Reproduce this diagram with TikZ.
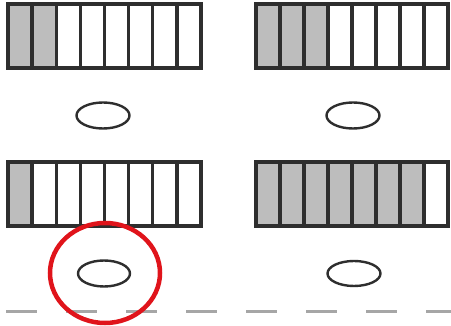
\documentclass[tikz,border=0pt]{standalone}
\definecolor{cellgray}{HTML}{BDBDBD}
\definecolor{edge}{HTML}{2E2E2E}
\definecolor{dashgray}{HTML}{A6A6A6}
\definecolor{ringred}{HTML}{E0141B}
\tikzset{
  cellline/.style={draw=edge, line width=3.4pt},
  outerline/.style={draw=edge, line width=4.2pt},
  puck/.style={draw=edge, line width=2.4pt},
}
\newcommand{\cellbar}[4]{% x0, y0 (top-left), width, number of gray cells
  \pgfmathsetmacro{\cw}{#3/8}
  \foreach \i in {1,...,8}{
    \pgfmathsetmacro{\xa}{#1+(\i-1)*\cw}
    \pgfmathsetmacro{\xb}{#1+\i*\cw}
    \ifnum\i>#4\relax
      \fill[white] (\xa,#2) rectangle (\xb,#2+64);
    \else
      \fill[cellgray] (\xa,#2) rectangle (\xb,#2+64);
    \fi
  }
  \foreach \i in {1,...,7}{
    \pgfmathsetmacro{\xa}{#1+\i*\cw}
    \draw[cellline] (\xa,#2) -- (\xa,#2+64);
  }
  \draw[outerline] (#1,#2) rectangle (#1+#3,#2+64);
}
\begin{document}
\begin{tikzpicture}[x=1pt,y=-1pt]
\useasboundingbox (0,0) rectangle (451,326);
\fill[white] (0,0) rectangle (451,326);
% dashed ground line
\draw[dashgray, line width=3pt, dash pattern=on 31pt off 29pt] (6,312) -- (451,312);
% bars
\cellbar{8}{4}{193}{2}
\cellbar{256}{4}{192}{3}
\cellbar{8}{162}{193}{1}
\cellbar{256}{162}{192}{7}
% ellipses
\draw[puck] (103,115.5) ellipse [x radius=26.5, y radius=13];
\draw[puck] (353,115.5) ellipse [x radius=26.5, y radius=13];
\draw[puck] (104,273.5) ellipse [x radius=26, y radius=13];
\draw[puck] (354,273.5) ellipse [x radius=26.5, y radius=12.5];
% red ring
\draw[ringred, line width=4.5pt] (105,273) ellipse [x radius=55, y radius=50];
\end{tikzpicture}
\end{document}
